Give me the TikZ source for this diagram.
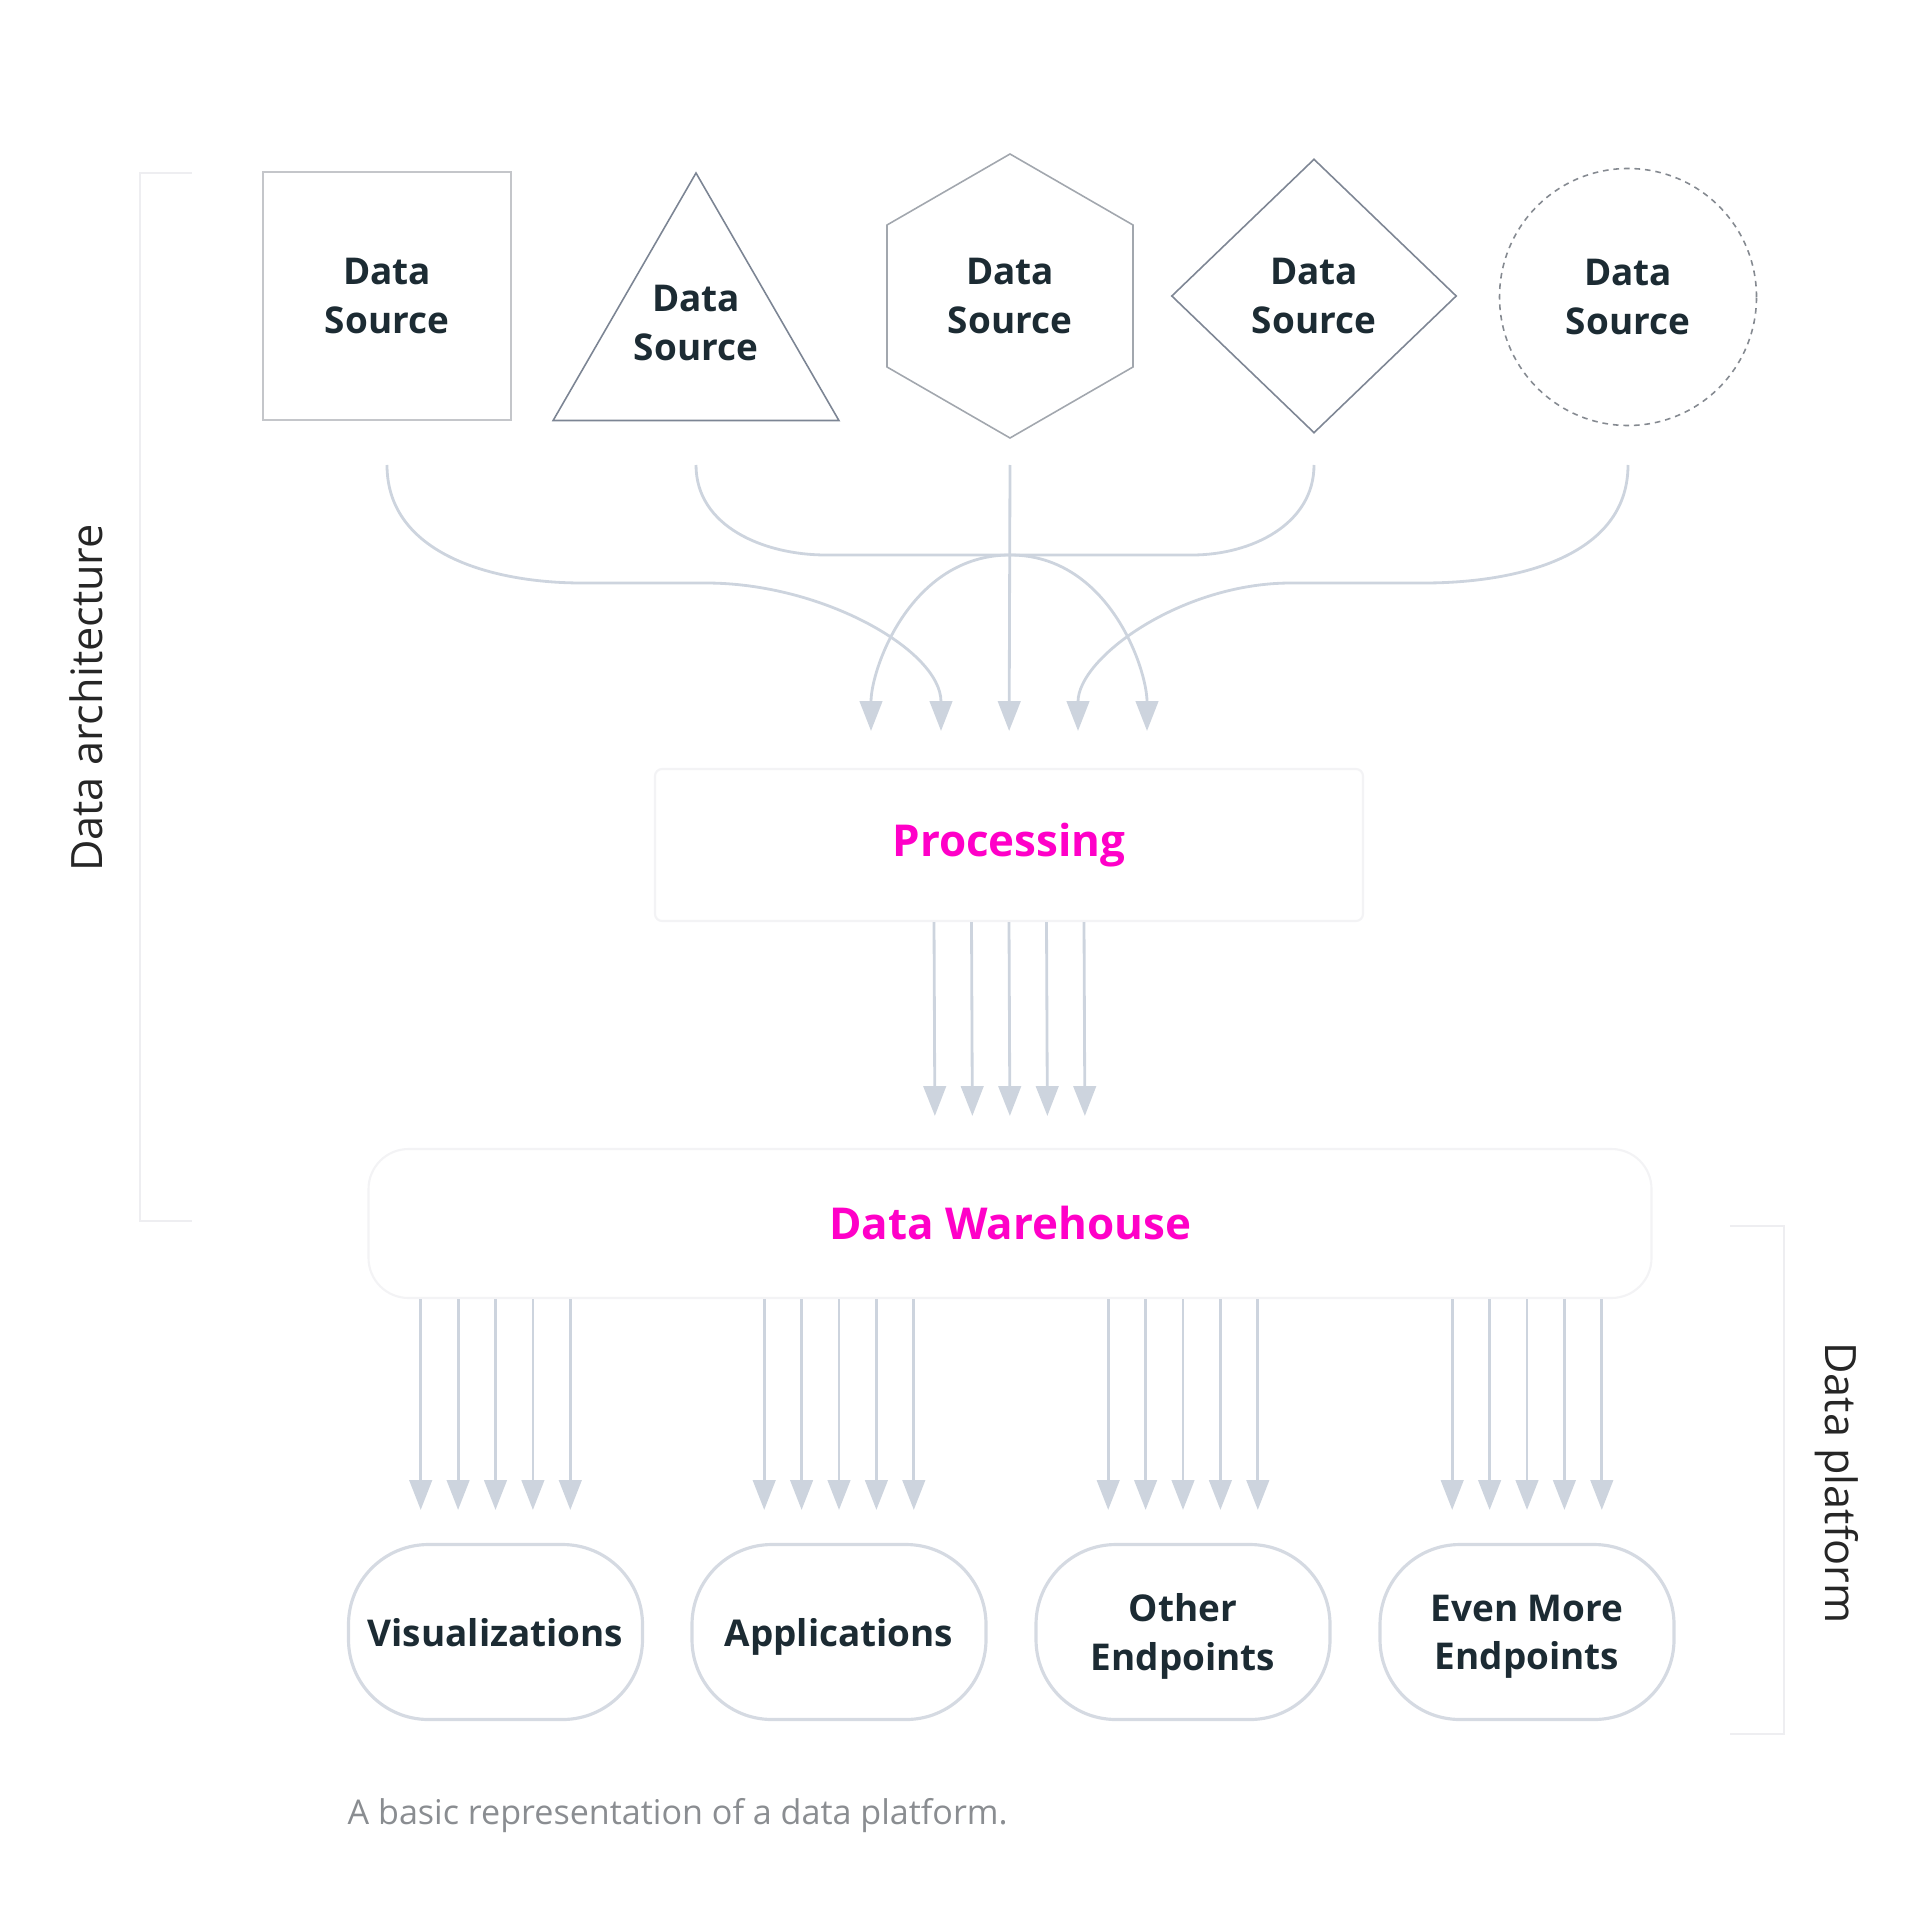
\documentclass[tikz,border=0pt]{standalone}
\usepackage{fontspec}
\setmainfont{Open Sans}
\usetikzlibrary{shapes.geometric,arrows.meta}
\definecolor{ink}{HTML}{1C2B33}
\definecolor{flowgray}{HTML}{CDD4DE}
\definecolor{procpink}{HTML}{FF00C8}
\definecolor{faint}{HTML}{EEEEF1}
\definecolor{stageline}{HTML}{F3F3F5}
\definecolor{capgray}{HTML}{8A8D91}
\definecolor{pillgray}{HTML}{D5DAE2}
\definecolor{sqgray}{HTML}{C4C6CA}
\definecolor{trigray}{HTML}{7C8594}
\definecolor{hexgray}{HTML}{A2A7AE}
\definecolor{diagray}{HTML}{7E8694}
\definecolor{circgray}{HTML}{858A91}

\begin{document}
\begin{tikzpicture}[
  srctext/.style={text=ink, font=\bfseries\fontsize{10.5}{13.7}\selectfont, align=center, inner sep=0pt},
  srcbox/.style={srctext, draw=#1, line width=0.45pt},
  flow/.style={draw=flowgray, line width=0.8pt, -{Triangle[length=8.5pt,width=6.4pt]}},
  stage/.style={draw=stageline, line width=0.6pt, fill=white, text=procpink, font=\bfseries\fontsize{12.5}{15}\selectfont},
  endpt/.style={draw=pillgray, line width=0.9pt, rounded corners=0.8cm, minimum width=2.94cm, minimum height=1.75cm, align=center, text depth=0pt, text=ink, font=\bfseries\fontsize{10.5}{13.7}\selectfont},
  bracket/.style={draw=faint, line width=0.6pt},
  sidelabel/.style={font=\fontsize{12.3}{14}\selectfont, text=black!85}
]
\useasboundingbox (0,0) rectangle (19.2,-19.2);

% data sources
\node[srcbox=sqgray, minimum size=2.48cm] (s1) at (3.87,-2.96) {Data\\Source};
\node[srcbox=trigray, regular polygon, regular polygon sides=3, minimum size=3.30cm] (s2) at (6.96,-3.38) {};
\node[srctext] (s2t) at (6.96,-3.23) {Data\\Source};
\node[srcbox=hexgray, regular polygon, regular polygon sides=6, shape border rotate=30, minimum size=2.84cm] (s3) at (10.10,-2.96) {Data\\Source};
\node[srcbox=diagray, diamond, minimum width=2.85cm, minimum height=2.74cm] (s4) at (13.14,-2.96) {Data\\Source};
\node[srcbox=circgray, circle, dash pattern=on 1.6pt off 1.4pt, minimum size=2.57cm] (s5) at (16.28,-2.97) {Data\\Source};

% stages
\node[stage, minimum width=7.08cm, minimum height=1.52cm, rounded corners=2pt] (proc) at (10.09,-8.45) {Processing};
\node[stage, minimum width=12.83cm, minimum height=1.49cm, rounded corners=0.4cm] (wh) at (10.10,-12.235) {Data Warehouse};

% endpoints
\node[endpt] (e1) at (4.955,-16.32) {Visualizations};
\node[endpt] (e2) at (8.39,-16.32) {Applications};
\node[endpt] (e3) at (11.83,-16.32) {Other\\Endpoints};
\node[endpt] (e4) at (15.27,-16.32) {Even More\\Endpoints};

\coordinate (fan) at (0,-4.65);
\coordinate (hub) at (10.10,-5.55);

% sources into processing
\draw[flow, shorten >=0.37cm] (s1 |- fan) to[out=-90,in=180] ++(1.95,-1.18) -- ++(1.24,0) to[out=0,in=90] ([xshift=-0.68cm]proc.north);
\draw[flow, shorten >=0.37cm] (s2 |- fan) to[out=-90,in=180] ++(1.30,-0.90) -- (hub) to[out=0,in=90] ([xshift=1.38cm]proc.north);
\draw[flow, shorten >=0.37cm] (s3 |- fan) -- (proc.north);
\draw[flow, shorten >=0.37cm] (s4 |- fan) to[out=-90,in=0] ++(-1.22,-0.90) -- (hub) to[out=180,in=90] ([xshift=-1.38cm]proc.north);
\draw[flow, shorten >=0.37cm] (s5 |- fan) to[out=-90,in=0] ++(-2.04,-1.18) -- ++(-1.33,0) to[out=180,in=90] ([xshift=0.69cm]proc.north);

% processing into warehouse
\foreach \dx in {-2,...,2}
  \draw[flow, shorten >=0.32cm] ([xshift=\dx*0.375cm]proc.south) -- ([xshift=\dx*0.375cm]wh.north);

% warehouse out to endpoints
\foreach \e in {e1,e2,e3,e4}
  \foreach \dx in {-2,...,2}
    \draw[flow, shorten >=0.33cm] ([xshift=\dx*0.374cm]\e.north |- wh.south) -- ([xshift=\dx*0.374cm]\e.north);

% brackets and labels
\draw[bracket] (1.92,-1.73) -- (1.40,-1.73) -- (1.40,-12.21) -- (1.92,-12.21);
\draw[bracket] (17.30,-12.26) -- (17.84,-12.26) -- (17.84,-17.34) -- (17.30,-17.34);
\node[sidelabel, rotate=90] (arch) at (0.86,-6.98) {Data architecture};
\node[sidelabel, rotate=-90] (plat) at (18.37,-14.83) {Data platform};
\node[anchor=west, text=capgray, font=\fontsize{9.7}{11.5}\selectfont, inner sep=0pt] (cap) at (3.47,-18.16) {A basic representation of a data platform.};
\end{tikzpicture}
\end{document}
